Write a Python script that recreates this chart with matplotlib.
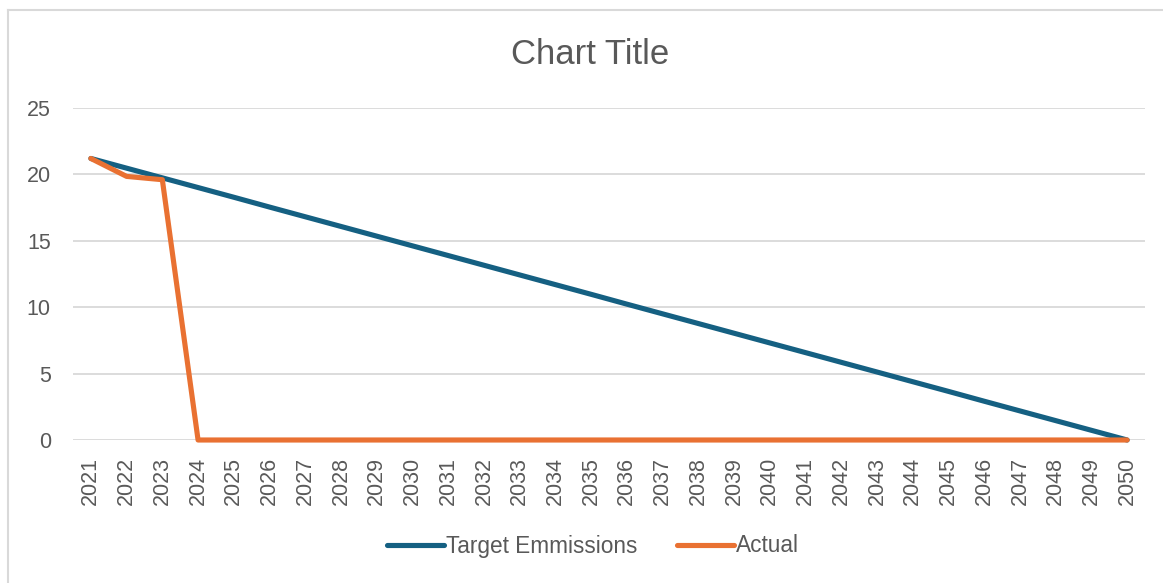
import matplotlib.pyplot as plt
from matplotlib.lines import Line2D

# ----------------- data -----------------
years = list(range(2021, 2051))
target = [21.2, 20.47, 19.74, 19.01, 18.28, 17.54, 16.81, 16.08, 15.35, 14.62,
          13.89, 13.16, 12.43, 11.70, 10.97, 10.23, 9.50, 8.77, 8.04, 7.31,
          6.58, 5.85, 5.12, 4.39, 3.66, 2.92, 2.19, 1.46, 0.73, 0.0]
actual = [21.2, 19.85, 19.6, 0, 0, 0, 0, 0, 0, 0,
          0, 0, 0, 0, 0, 0, 0, 0, 0, 0,
          0, 0, 0, 0, 0, 0, 0, 0, 0, 0]
y_ticks = [0, 5, 10, 15, 20, 25]

BLUE = "#156082"
ORANGE = "#E97132"
TXT = "#595959"
GRID = "#D9D9D9"

plt.rcParams['font.family'] = ['Liberation Sans', 'DejaVu Sans']

fig = plt.figure(figsize=(11.63, 5.83), dpi=100)
ax = fig.add_axes([73 / 1163, 1 - 440 / 583, (1145 - 73) / 1163, (440 - 108) / 583])

pos = list(range(len(years)))
ax.plot(pos, target, color=BLUE, lw=3.7, solid_capstyle='round', solid_joinstyle='round',
        label='Target Emmissions', zorder=3, clip_on=False)
ax.plot(pos, actual, color=ORANGE, lw=3.7, solid_capstyle='round', solid_joinstyle='round',
        label='Actual', zorder=4, clip_on=False)

ax.set_xlim(-0.5, len(years) - 0.5)
ax.set_ylim(0, 25)
ax.set_yticks(y_ticks)
ax.set_xticks(pos)
ax.set_xticklabels([str(y) for y in years], rotation=90)
ax.yaxis.grid(True, color=GRID, lw=1.3)
ax.set_axisbelow(True)
for sp in ax.spines.values():
    sp.set_visible(False)
ax.tick_params(axis='both', length=0, labelsize=15.5, labelcolor=TXT)
ax.tick_params(axis='y', pad=16)
ax.tick_params(axis='x', pad=12)

fig.text(590 / 1163, 1 - 55 / 583, "Chart Title", ha='center', va='center',
         fontsize=25, color=TXT)

fig.legend(loc='center', bbox_to_anchor=(593 / 1163, 1 - 546 / 583), ncol=2,
           frameon=False, fontsize=16.3, handlelength=2.5, handletextpad=0.1,
           columnspacing=1.75, labelcolor=TXT)

# chart area border (top and left visible)
fig.add_artist(Line2D([8 / 1163, 1], [1 - 9.5 / 583, 1 - 9.5 / 583],
                      transform=fig.transFigure, color=GRID, lw=1.5))
fig.add_artist(Line2D([8 / 1163, 8 / 1163], [0, 1 - 9.5 / 583],
                      transform=fig.transFigure, color=GRID, lw=1.5))

fig.savefig("out.png", dpi=100)
